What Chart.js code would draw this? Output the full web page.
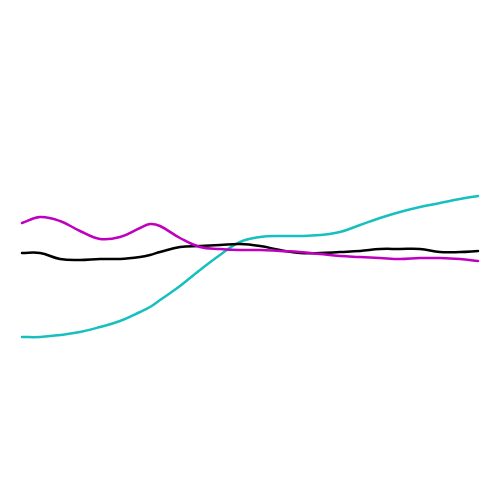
<!DOCTYPE html>
<html>
<head>
<meta charset="utf-8">
<script src="https://cdn.jsdelivr.net/npm/chart.js@4"></script>
<style>html,body{margin:0;padding:0;background:#fff;}canvas{display:block;}</style>
</head>
<body>
<canvas id="c" width="500" height="500"></canvas>
<script>
const xs = [22,40,60,80,100,120,140,150,160,180,200,220,240,260,280,300,320,340,360,380,400,420,440,460,478];
const magenta = [277,283,279,269,261,263,272,276,274,262,253,251,250,250,249,248,246,244,243,242,241,242,242,241,239];
const black = [247,247,241,240,241,241,243,245,248,253,254,255,256,254,250,247,247,248,249,251,251,251,248,248,249];
const cyan = [163,163,165,168,173,179,188,193,200,214,230,245,258,263,264,264,265,268,275,282,288,293,297,301,304];

function pts(vals){ return xs.map((x,i)=>({x:x,y:vals[i]})); }
function ds(vals,color){
  return {data:pts(vals),borderColor:color,borderWidth:2.5,pointRadius:0,fill:false,tension:0.4,borderCapStyle:'round',borderJoinStyle:'round'};
}
new Chart(document.getElementById('c'),{
  type:'line',
  data:{datasets:[ds(magenta,'#bf00bf'),ds(black,'#000000'),ds(cyan,'#17bfbf')]},
  options:{
    responsive:false,animation:false,
    layout:{padding:0},
    plugins:{legend:{display:false},tooltip:{enabled:false}},
    scales:{
      x:{type:'linear',min:0,max:500,display:false},
      y:{min:0,max:500,display:false}
    }
  }
});
</script>
</body>
</html>
